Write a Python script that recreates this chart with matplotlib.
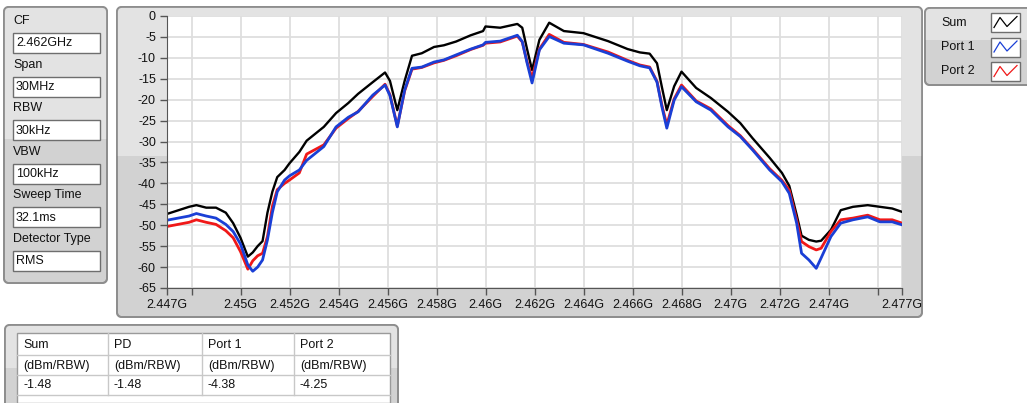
import matplotlib
matplotlib.use('Agg')
import matplotlib.pyplot as plt
from matplotlib.patches import FancyBboxPatch, Rectangle

plt.rcParams['font.family'] = ['Liberation Sans', 'DejaVu Sans']

# Spectrum traces (GHz, dBm/RBW)
freq_ghz = [2.4470, 2.4479, 2.4482, 2.4486, 2.4490, 2.4494, 2.4497, 2.4500, 2.4503, 2.4505,
            2.4507, 2.4509, 2.4511, 2.4513, 2.4515, 2.4518, 2.4520, 2.4524, 2.4527, 2.4534,
            2.4539, 2.4544, 2.4548, 2.4554, 2.4559, 2.4561, 2.4564, 2.4567, 2.4570, 2.4574,
            2.4579, 2.4583, 2.4588, 2.4594, 2.4599, 2.4600, 2.4606, 2.4613, 2.4615, 2.4617,
            2.4619, 2.4622, 2.4626, 2.4632, 2.4640, 2.4650, 2.4658, 2.4663, 2.4667, 2.4670,
            2.4672, 2.4674, 2.4677, 2.4680, 2.4686, 2.4692, 2.4699, 2.4704, 2.4709, 2.4716,
            2.4721, 2.4724, 2.4727, 2.4729, 2.4732, 2.4735, 2.4737, 2.4741, 2.4745, 2.4750,
            2.4756, 2.4761, 2.4766, 2.4770]
sum_dbm = [-47.3, -45.6, -45.2, -45.8, -45.8, -47.0, -49.5, -53.0, -57.5, -56.5,
           -55.0, -53.8, -47.0, -42.0, -38.5, -36.8, -35.2, -32.5, -29.8, -26.5,
           -23.2, -20.8, -18.6, -15.8, -13.5, -15.5, -22.5, -15.5, -9.5, -8.9,
           -7.4, -7.0, -6.1, -4.6, -3.6, -2.5, -2.8, -1.9, -2.8, -8.0,
           -12.9, -5.7, -1.6, -3.6, -4.1, -6.0, -7.9, -8.7, -9.0, -11.3,
           -17.0, -22.5, -16.8, -13.3, -17.2, -19.6, -22.9, -25.6, -29.2, -33.9,
           -37.5, -40.6, -47.5, -52.5, -53.5, -53.9, -53.7, -51.1, -46.4, -45.6,
           -45.2, -45.6, -46.0, -46.8]
port1_dbm = [-48.8, -47.8, -47.2, -47.8, -48.3, -49.8, -51.5, -54.5, -59.5, -61.0,
             -60.0, -58.3, -53.5, -47.0, -42.0, -39.2, -38.2, -36.8, -34.5, -31.2,
             -26.5, -24.2, -22.9, -18.9, -16.5, -19.0, -26.5, -17.7, -12.5, -12.2,
             -11.0, -10.5, -9.3, -7.9, -6.9, -6.3, -6.0, -4.6, -6.1, -11.3,
             -16.0, -8.1, -4.9, -6.5, -6.9, -8.9, -10.8, -11.9, -12.4, -15.8,
             -21.7, -26.8, -20.1, -16.9, -20.5, -22.5, -26.5, -28.8, -32.0, -36.8,
             -39.6, -42.4, -49.5, -56.7, -58.3, -60.3, -57.8, -52.7, -49.5, -48.7,
             -48.0, -49.2, -49.2, -49.9]
port2_dbm = [-50.3, -49.3, -48.7, -49.3, -49.8, -51.3, -53.0, -56.3, -60.5, -58.5,
             -57.3, -56.7, -52.7, -45.5, -41.5, -40.0, -39.2, -37.5, -33.0, -30.8,
             -26.8, -24.5, -22.8, -19.2, -16.3, -18.8, -26.3, -17.9, -12.7, -12.3,
             -11.2, -10.6, -9.5, -8.0, -7.0, -6.5, -6.2, -4.8, -6.2, -11.0,
             -14.8, -7.9, -4.4, -6.3, -6.8, -8.6, -10.6, -11.7, -12.2, -15.6,
             -21.3, -26.0, -19.8, -16.5, -20.3, -22.2, -26.2, -28.6, -31.8, -36.5,
             -39.3, -41.6, -48.7, -53.9, -55.1, -55.9, -55.5, -51.5, -48.7, -48.3,
             -47.6, -48.7, -48.7, -49.5]

x_ticks = [2.447, 2.448, 2.450, 2.452, 2.454, 2.456, 2.458, 2.460, 2.462,
           2.464, 2.466, 2.468, 2.470, 2.472, 2.474, 2.476, 2.477]
x_labels = ['2.447G', '', '2.45G', '2.452G', '2.454G', '2.456G', '2.458G', '2.46G', '2.462G',
            '2.464G', '2.466G', '2.468G', '2.47G', '2.472G', '2.474G', '', '2.477G']
y_ticks = [0, -5, -10, -15, -20, -25, -30, -35, -40, -45, -50, -55, -60, -65]

settings_names = ['CF', 'Span', 'RBW', 'VBW', 'Sweep Time', 'Detector Type']
settings_values = ['2.462GHz', '30MHz', '30kHz', '100kHz', '32.1ms', 'RMS']

legend_names = ['Sum', 'Port 1', 'Port 2']
trace_colors = ['#000000', '#1a3fd6', '#f01818']

table_headers = ['Sum', 'PD', 'Port 1', 'Port 2']
table_units = ['(dBm/RBW)', '(dBm/RBW)', '(dBm/RBW)', '(dBm/RBW)']
table_values = ['-1.48', '-1.48', '-4.38', '-4.25']

W, H = 1027, 403
fig = plt.figure(figsize=(W / 100, H / 100), dpi=100)
fig.patch.set_facecolor('white')

# overlay in pixel coordinates for the LabVIEW style panels
bg = fig.add_axes([0, 0, 1, 1], zorder=0)
bg.set_xlim(0, W)
bg.set_ylim(H, 0)
bg.axis('off')

TXT = '#111111'
FS = 9


def panel(x0, y0, w, h, split=0.48):
    p = FancyBboxPatch((x0, y0), w, h, boxstyle='round,pad=0,rounding_size=5',
                       fc='#d2d2d2', ec='#8e8e8e', lw=1.3)
    bg.add_patch(p)
    top = Rectangle((x0, y0), w, h * split, fc='#e3e3e3', ec='none')
    top.set_clip_path(p)
    bg.add_patch(top)
    edge = FancyBboxPatch((x0, y0), w, h, boxstyle='round,pad=0,rounding_size=5',
                          fc='none', ec='#8e8e8e', lw=1.3)
    bg.add_patch(edge)


def field(x0, y0, w, h):
    bg.add_patch(Rectangle((x0, y0), w, h, fc='white', ec='#6e6e6e', lw=1.0))


# settings panel
panel(4, 7, 103, 276)
for i, (name, val) in enumerate(zip(settings_names, settings_values)):
    yl = 21 + i * 43.6
    bg.text(13, yl, name, fontsize=FS, color=TXT, va='center', ha='left')
    field(13, yl + 12, 87, 20)
    bg.text(16, yl + 22.5, val, fontsize=FS, color=TXT, va='center', ha='left')

# chart panel
panel(117, 7, 805, 310)

# legend panel
panel(925, 8, 108, 77, split=0.42)
for i, (name, col) in enumerate(zip(legend_names, trace_colors)):
    yc = 22.5 + i * 24.5
    bg.text(941, yc, name, fontsize=FS, color=TXT, va='center', ha='left')
    field(991, yc - 9.5, 29, 19)
    bg.plot([994, 1000, 1007, 1017], [yc + 5, yc - 5, yc + 4, yc - 6], color=col, lw=0.9)

# table panel
panel(5, 325, 393, 90)
bg.add_patch(Rectangle((17, 333), 373, 70, fc='white', ec='#9a9a9a', lw=1.0))
col_x = [17, 108, 202, 294, 390]
for cx in col_x[1:-1]:
    bg.plot([cx, cx], [333, 395], color='#c8c8c8', lw=1.0)
for ry in [355, 375, 395]:
    bg.plot([17, 390], [ry, ry], color='#c8c8c8', lw=1.0)
for j in range(4):
    tx = col_x[j] + 6
    bg.text(tx, 345, table_headers[j], fontsize=FS, color=TXT, va='center')
    bg.text(tx, 366, table_units[j], fontsize=FS, color=TXT, va='center')
    bg.text(tx, 385, table_values[j], fontsize=FS, color=TXT, va='center')

# spectrum plot
ax = fig.add_axes([167 / W, 1 - 288 / H, 735 / W, 272 / H], zorder=1)
ax.set_facecolor('white')
ax.plot(freq_ghz, sum_dbm, color=trace_colors[0], lw=1.7)
ax.plot(freq_ghz, port2_dbm, color=trace_colors[2], lw=2.0)
ax.plot(freq_ghz, port1_dbm, color=trace_colors[1], lw=2.0)
ax.set_xlim(2.447, 2.477)
ax.set_ylim(-65, 0)
ax.set_xticks(x_ticks)
ax.set_xticklabels(x_labels)
ax.set_yticks(y_ticks)
ax.set_yticklabels([str(v) for v in y_ticks])
ax.grid(True, color='#dedede', lw=1.3)
ax.set_axisbelow(True)
ax.tick_params(direction='out', length=5, width=1, color='#555555',
               labelsize=FS, labelcolor=TXT, pad=3)
for s in ['top', 'right']:
    ax.spines[s].set_visible(False)
for s in ['left', 'bottom']:
    ax.spines[s].set_color('#555555')

fig.savefig('out.png', dpi=100, facecolor='white')
